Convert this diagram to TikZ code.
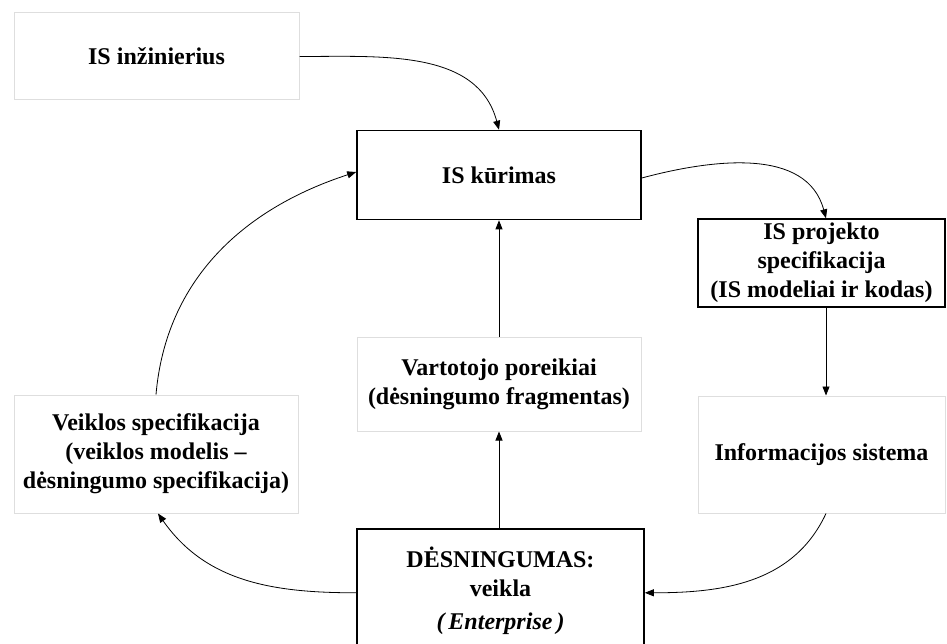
\documentclass[tikz,border=0pt]{standalone}
\usepackage{fontspec}
\setmainfont{Liberation Serif}
\usetikzlibrary{arrows.meta}
\definecolor{lightframe}{RGB}{222,222,222}
\begin{document}
\begin{tikzpicture}[x=1pt,y=-1pt,
  box/.style={rectangle, draw=lightframe, line width=1pt, align=center,
    inner sep=0pt, font=\fontsize{24}{29}\selectfont\bfseries},
  darkbox/.style={box, draw=black, line width=1.6pt},
  link/.style={-{Triangle[length=9pt,width=7pt]}, line width=0.8pt}]
\useasboundingbox (0,0) rectangle (947,644);
\clip (0,0) rectangle (947,644);

% boxes
\node[box, minimum width=285pt, minimum height=87pt] (inz) at (156.5,56.5) {IS inžinierius};
\node[darkbox, minimum width=284pt, minimum height=89pt] (kur) at (499,175) {IS kūrimas};
\node[darkbox, line width=1.4pt, minimum width=247pt, minimum height=88pt] (proj) at (821.5,263)
  {IS projekto\\specifikacija\\(IS modeliai ir kodas)};
\node[box, minimum width=247pt, minimum height=117pt] (info) at (821.5,454.5) {Informacijos sistema};
\node[box, minimum width=284pt, minimum height=94pt] (vart) at (499,384)
  {Vartotojo poreikiai\\(dėsningumo fragmentas)};
\node[box, minimum width=284pt, minimum height=118pt] (veik) at (156,454)
  {Veiklos specifikacija\\(veiklos modelis --\\dėsningumo specifikacija)};
\node[darkbox, anchor=north, minimum width=287pt, minimum height=124pt] (des) at (500.5,528)
  {DĖSNINGUMAS:\\veikla\\[4pt]{\itshape (\,Enterprise\,)}};

% connectors
\draw[link] (inz.east) to[out=0, in=105] (kur.north);
\draw[link] ([yshift=-3pt]kur.east) to[out=15, in=105] ([xshift=4.5pt]proj.north);
\draw[link] ([xshift=4.5pt]proj.south) -- ([xshift=4.5pt]info.north);
\draw[link] ([xshift=4.5pt]info.south) to[out=-115, in=0] ([yshift=-2pt]des.east);
\draw[link] ([yshift=-2pt]des.west) to[out=180, in=-55] ([xshift=2pt]veik.south);
\draw[link] (veik.north) to[out=85, in=198] ([yshift=3pt]kur.west);
\draw[link] (des.north -| vart.south) -- (vart.south);
\draw[link] (vart.north) -- (kur.south);
\end{tikzpicture}
\end{document}
